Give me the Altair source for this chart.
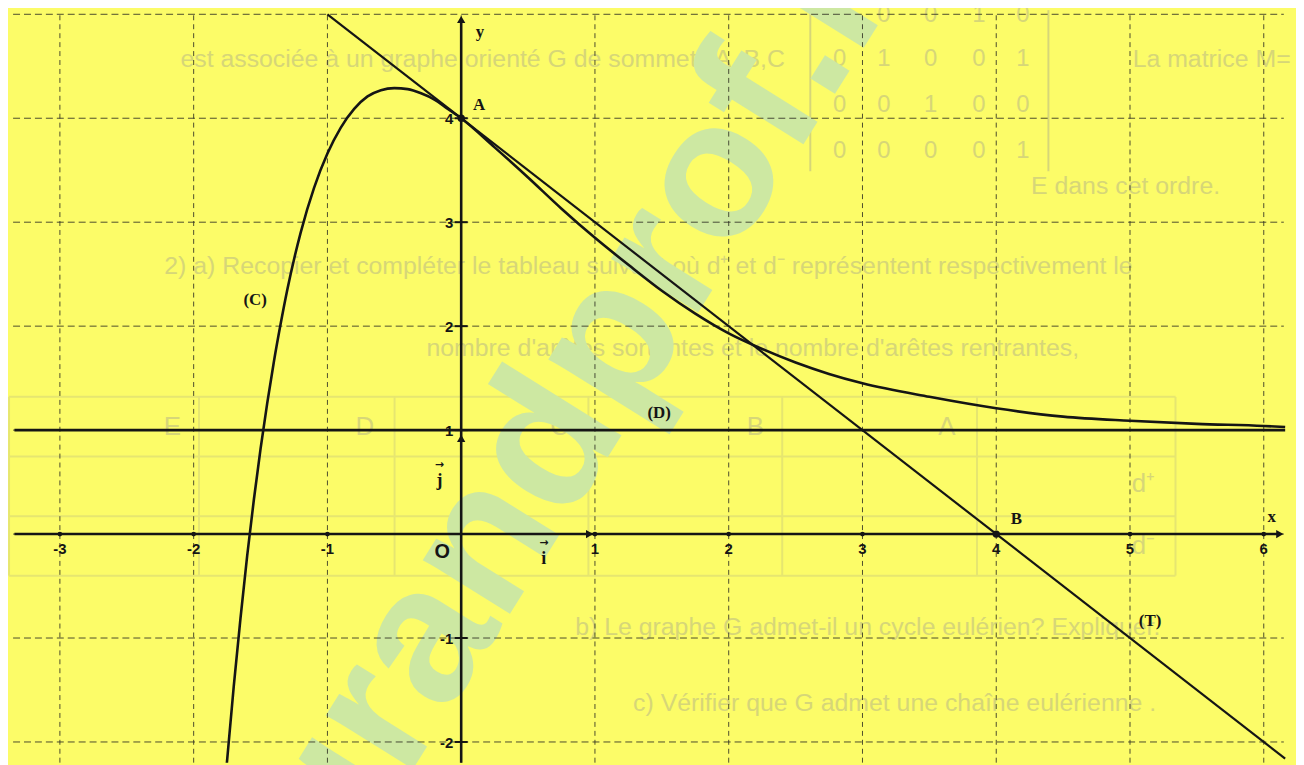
import altair as alt
import pandas as pd

# ---------------- values ----------------
curve_x = [-1.760, -1.700, -1.650, -1.600, -1.550, -1.500, -1.450, -1.400, -1.350, -1.300,
           -1.200, -1.100, -1.000, -0.900, -0.800, -0.700, -0.600, -0.500, -0.400, -0.300,
           -0.200, -0.100, 0.000, 0.250, 0.500, 0.750, 1.000, 1.250, 1.500, 1.750,
           2.000, 2.250, 2.500, 2.750, 3.000, 3.500, 4.000, 4.500, 5.000, 5.500, 6.000, 6.160]
curve_y = [-2.32, -1.46, -0.81, -0.21, 0.33, 0.82, 1.26, 1.66, 2.02, 2.35,
           2.90, 3.33, 3.66, 3.91, 4.09, 4.21, 4.27, 4.29, 4.28, 4.24,
           4.18, 4.09, 4.00, 3.72, 3.43, 3.13, 2.85, 2.59, 2.34, 2.12,
           1.93, 1.78, 1.65, 1.54, 1.45, 1.32, 1.21, 1.13, 1.09, 1.06, 1.04, 1.03]

tangent_x = [-1.0, 6.16]
tangent_y = [5.0, -2.16]
asym_x = [-3.34, 6.16]
asym_y = [1.0, 1.0]

grid_x = [-3, -2, -1, 0, 1, 2, 3, 4, 5, 6]
grid_y = [-2, -1, 0, 1, 2, 3, 4, 5]

xtick_vals = [-3, -2, -1, 1, 2, 3, 4, 5, 6]
xtick_text = ["-3", "-2", "-1", "1", "2", "3", "4", "5", "6"]
ytick_vals = [-2, -1, 1, 2, 3, 4]
ytick_text = ["-2", "-1", "1", "2", "3", "4"]

point_names = ["A", "B"]
point_x = [0, 4]
point_y = [4, 0]

serif_text = ["A", "B", "(C)", "(D)", "(T)", "x", "y"]
serif_x = [0.134, 4.15, -1.54, 1.48, 5.15, 6.06, 0.141]
serif_y = [4.13, 0.143, 2.25, 1.166, -0.84, 0.16, 4.83]

vec_text = ["j", "i"]
vec_x = [-0.163, 0.617]
vec_y = [0.507, -0.24]

watermark = ["grandprof.net"]
wm_x = [1.24]
wm_y = [2.10]

# faint text showing through the paper
ghost_text = ["est associée à un graphe orienté G de sommets A ,B,C",
              "La matrice M=",
              "E dans cet ordre.",
              "2) a) Recopier et compléter le tableau suivant où d⁺ et d⁻ représentent respectivement le",
              "nombre d'arêtes sortantes et le nombre d'arêtes rentrantes,",
              "b) Le graphe G admet-il un cycle eulérien? Expliquer.",
              "c) Vérifier que G admet une chaîne eulérienne ."]
ghost_x = [2.42, 5.02, 4.26, 1.40, 2.18, 3.04, 3.24]
ghost_y = [4.57, 4.57, 3.35, 2.58, 1.79, -0.89, -1.63]
ghost_align = ["right", "left", "left", "center", "center", "center", "center"]

matrix_rows = [["1", "0", "0", "1", "0"],
               ["0", "1", "0", "0", "1"],
               ["0", "0", "1", "0", "0"],
               ["0", "0", "0", "0", "1"]]
matrix_col_x = [2.83, 3.16, 3.51, 3.87, 4.20]
matrix_row_y = [4.99, 4.57, 4.13, 3.68]
matrix_bar_x = [2.61, 4.39]
matrix_bar_y = [5.04, 3.49]

table_row_y = [1.32, 0.746, 0.172, -0.40]
table_col_x = [-3.38, -1.96, -0.498, 0.951, 2.40, 3.856, 5.34]
table_head = ["E", "D", "C", "B", "A"]
table_head_x = [-2.16, -0.72, 0.735, 2.20, 3.63]
table_head_y = 1.03
table_side = ["d⁺", "d⁻"]
table_side_x = [5.10, 5.10]
table_side_y = [0.478, -0.115]

# ---------------- layout ----------------
X_DOM = [-3.388, 6.241]
Y_DOM = [-2.199, 5.038]
W, H = 1296, 757
BG = "#fcfc68"
INK = "#151515"
GRID = "#2e2e22"
GHOST = "#d6d678"
GHOST_LINE = "#e6e670"

xs = alt.Scale(domain=X_DOM, nice=False, zero=False)
ys = alt.Scale(domain=Y_DOM, nice=False, zero=False)


def X(f="x"):
    return alt.X(f"{f}:Q", scale=xs, axis=None)


def Y(f="y"):
    return alt.Y(f"{f}:Q", scale=ys, axis=None)


layers = []

# ghost table
tr = pd.DataFrame({"y": table_row_y, "x0": table_col_x[0], "x1": table_col_x[-1]})
layers.append(alt.Chart(tr).mark_rule(color=GHOST_LINE, strokeWidth=2)
              .encode(y=Y(), x=X("x0"), x2=alt.X2("x1:Q")))
tc = pd.DataFrame({"x": table_col_x, "y0": table_row_y[0], "y1": table_row_y[-1]})
layers.append(alt.Chart(tc).mark_rule(color=GHOST_LINE, strokeWidth=2)
              .encode(x=X(), y=Y("y0"), y2=alt.Y2("y1:Q")))
th = pd.DataFrame({"t": table_head + table_side,
                   "x": table_head_x + table_side_x,
                   "y": [table_head_y] * len(table_head) + table_side_y})
layers.append(alt.Chart(th).mark_text(font="Liberation Sans", fontSize=26, color=GHOST, baseline="middle")
              .encode(x=X(), y=Y(), text="t:N"))

# ghost matrix
mrows = []
for r, row in enumerate(matrix_rows):
    for c, v in enumerate(row):
        mrows.append({"t": v, "x": matrix_col_x[c], "y": matrix_row_y[r]})
layers.append(alt.Chart(pd.DataFrame(mrows)).mark_text(font="Liberation Sans", fontSize=24, color=GHOST,
                                                       baseline="middle")
              .encode(x=X(), y=Y(), text="t:N"))
mb = pd.DataFrame({"x": matrix_bar_x, "y0": matrix_bar_y[0], "y1": matrix_bar_y[1]})
layers.append(alt.Chart(mb).mark_rule(color=GHOST, strokeWidth=2)
              .encode(x=X(), y=Y("y0"), y2=alt.Y2("y1:Q")))

# ghost text lines
gt = pd.DataFrame({"t": ghost_text, "x": ghost_x, "y": ghost_y, "a": ghost_align})
for a in ["left", "center", "right"]:
    layers.append(alt.Chart(gt[gt["a"] == a]).mark_text(font="Liberation Sans", fontSize=25, color=GHOST,
                                                         baseline="middle", align=a)
                  .encode(x=X(), y=Y(), text="t:N"))

# watermark
wm = pd.DataFrame({"t": watermark, "x": wm_x, "y": wm_y})
layers.append(alt.Chart(wm).mark_text(font="Liberation Sans", fontWeight="bold", fontSize=195,
                                      angle=302, align="center", baseline="middle",
                                      color="#cde8a2").encode(x=X(), y=Y(), text="t:N"))

# grid
vg = pd.DataFrame({"x": grid_x, "y0": Y_DOM[0], "y1": 5.0})
layers.append(alt.Chart(vg).mark_rule(color=GRID, strokeWidth=1, strokeDash=[5, 4], opacity=0.85)
              .encode(x=X(), y=Y("y0"), y2=alt.Y2("y1:Q")))
hg = pd.DataFrame({"y": grid_y, "x0": -3.35, "x1": 6.15})
layers.append(alt.Chart(hg).mark_rule(color=GRID, strokeWidth=1, strokeDash=[7, 4], opacity=0.85)
              .encode(y=Y(), x=X("x0"), x2=alt.X2("x1:Q")))

# axes
xa = pd.DataFrame({"x0": [-3.34], "x1": [6.12], "y": [0.0]})
layers.append(alt.Chart(xa).mark_rule(color=INK, strokeWidth=2.6)
              .encode(x=X("x0"), x2=alt.X2("x1:Q"), y=Y()))
ya = pd.DataFrame({"x": [0.0], "y0": [Y_DOM[0]], "y1": [4.95]})
layers.append(alt.Chart(ya).mark_rule(color=INK, strokeWidth=2.6)
              .encode(x=X(), y=Y("y0"), y2=alt.Y2("y1:Q")))

# asymptote D and tangent T
dd = pd.DataFrame({"x": asym_x, "y": asym_y})
layers.append(alt.Chart(dd).mark_line(color=INK, strokeWidth=2.6).encode(x=X(), y=Y()))
tt = pd.DataFrame({"x": tangent_x, "y": tangent_y})
layers.append(alt.Chart(tt).mark_line(color=INK, strokeWidth=2.2, clip=True).encode(x=X(), y=Y()))

# curve C
cc = pd.DataFrame({"x": curve_x, "y": curve_y})
layers.append(alt.Chart(cc).mark_line(color=INK, strokeWidth=2.6, interpolate="monotone", clip=True)
              .encode(x=X(), y=Y(), order="x:Q"))

# arrow heads
arr_r = pd.DataFrame({"x": [6.12, 0.96], "y": [0.0, 0.0]})
layers.append(alt.Chart(arr_r).mark_point(shape="triangle-right", filled=True, size=70, color=INK, opacity=1)
              .encode(x=X(), y=Y()))
arr_u = pd.DataFrame({"x": [0.0, 0.0], "y": [4.95, 0.92]})
layers.append(alt.Chart(arr_u).mark_point(shape="triangle-up", filled=True, size=70, color=INK, opacity=1)
              .encode(x=X(), y=Y()))

# tick marks
xt = pd.DataFrame({"x": xtick_vals, "y": 0.0, "t": xtick_text})
layers.append(alt.Chart(xt).mark_circle(size=22, color=INK, opacity=1).encode(x=X(), y=Y()))
yt = pd.DataFrame({"y": ytick_vals, "x": 0.0, "t": ytick_text})
layers.append(alt.Chart(yt).mark_tick(orient="horizontal", size=13, thickness=2, color=INK, opacity=1)
              .encode(x=X(), y=Y()))

# points A, B
pp = pd.DataFrame({"x": point_x, "y": point_y, "t": point_names})
layers.append(alt.Chart(pp).mark_circle(size=55, color=INK, opacity=1).encode(x=X(), y=Y()))

# tick labels
layers.append(alt.Chart(xt).mark_text(font="Liberation Sans", fontWeight="bold", fontSize=15,
                                      color=INK, dy=15, baseline="middle")
              .encode(x=X(), y=Y(), text="t:N"))
layers.append(alt.Chart(yt).mark_text(font="Liberation Sans", fontWeight="bold", fontSize=15,
                                      color=INK, dx=-8, dy=1, align="right", baseline="middle")
              .encode(x=X(), y=Y(), text="t:N"))

# origin
oo = pd.DataFrame({"x": [-0.141], "y": [-0.17], "t": ["O"]})
layers.append(alt.Chart(oo).mark_text(font="Liberation Sans", fontWeight="bold", fontSize=20,
                                      color=INK, baseline="middle")
              .encode(x=X(), y=Y(), text="t:N"))

# serif labels
sl = pd.DataFrame({"x": serif_x, "y": serif_y, "t": serif_text})
layers.append(alt.Chart(sl).mark_text(font="Liberation Serif", fontWeight="bold", fontSize=17,
                                      color=INK, baseline="middle")
              .encode(x=X(), y=Y(), text="t:N"))

# unit vectors labels with arrows
vl = pd.DataFrame({"x": vec_x, "y": vec_y, "t": vec_text})
layers.append(alt.Chart(vl).mark_text(font="Liberation Serif", fontWeight="bold", fontSize=18,
                                      color=INK, baseline="middle")
              .encode(x=X(), y=Y(), text="t:N"))
layers.append(alt.Chart(vl).mark_text(font="DejaVu Sans", fontWeight="bold", fontSize=11,
                                      color=INK, baseline="middle", dy=-16)
              .encode(x=X(), y=Y(), text=alt.value("→")))

chart = alt.layer(*layers).properties(
    width=W, height=H, background=BG, padding=0,
    autosize=alt.AutoSizeParams(type="none"),
).configure_view(stroke=None)

chart.save("out.html", embed_options={"renderer": "svg", "actions": False})
